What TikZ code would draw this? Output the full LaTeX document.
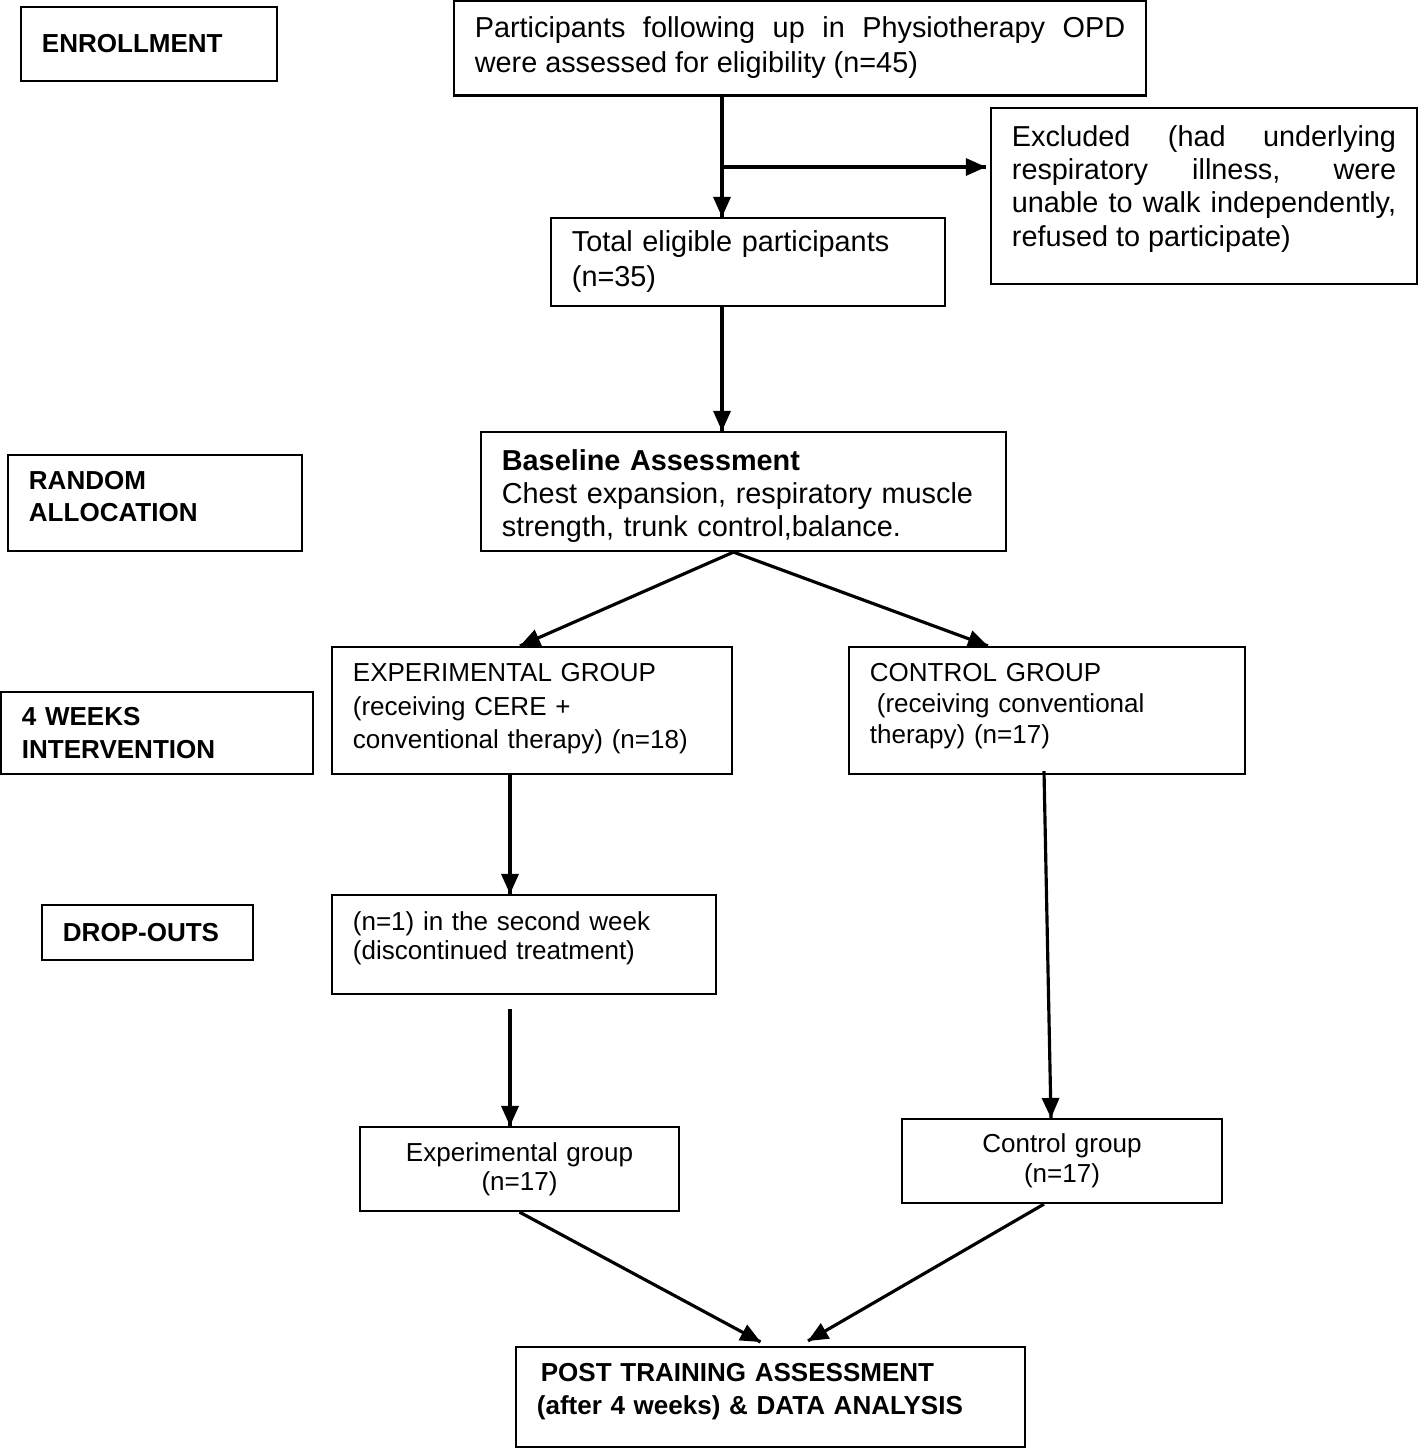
\documentclass[tikz,border=0pt]{standalone}
\usepackage{fontspec}
\setmainfont{Liberation Sans}
\usetikzlibrary{calc}

\begin{document}
\begin{tikzpicture}[
x=0.01cm,
y=-0.01cm,
stagebox/.style={
rectangle,
draw=black,
line width=0.6pt,
inner xsep=0.21cm,
inner ysep=0pt
},
bigfont/.style={font=\fontsize{8.2pt}{#1}\selectfont},
smallfont/.style={font=\fontsize{7.4pt}{#1}\selectfont},
phase/.style={
stagebox,
align=left,
font=\fontsize{7.4pt}{#1}\selectfont\bfseries
},
flow/.style={line width=0.9pt}
]

\useasboundingbox (0,0) rectangle (1419,1448);

% Phase labels
\node[phase=9.2pt, minimum width=2.56cm, minimum height=0.74cm, text width=2.14cm] (enroll) at (149,44)
{ENROLLMENT};

\node[phase=9.1pt, minimum width=2.94cm, minimum height=0.96cm, text width=2.52cm] (alloc) at (155,503)
{RANDOM\\ALLOCATION\rule[-0.14cm]{0pt}{0pt}};

\node[phase=9.4pt, minimum width=3.12cm, minimum height=0.82cm, text width=2.70cm] (weeks) at (157,733)
{4 WEEKS\\INTERVENTION};

\node[phase=9.2pt, minimum width=2.11cm, minimum height=0.55cm, text width=1.69cm] (dropouts) at (147.5,932.5)
{DROP-OUTS};

% Flow boxes
\node[stagebox, bigfont=9.96pt, align=justify, minimum width=6.92cm, minimum height=0.95cm, text width=6.50cm] (part) at (800,48)
{Participants following up in Physiotherapy OPD\linebreak were assessed for eligibility (n=45)};

\node[stagebox, bigfont=9.4pt, align=justify, minimum width=4.26cm, minimum height=1.76cm, text width=3.84cm] (excl) at (1204,196)
{Excluded (had underlying\linebreak respiratory illness, were\linebreak unable to walk independently,\linebreak refused to participate)\rule[-0.20cm]{0pt}{0pt}};

\node[stagebox, bigfont=9.96pt, align=left, minimum width=3.94cm, minimum height=0.88cm, text width=3.52cm] (total) at (748,262)
{Total eligible participants\\(n=35)};

\node[stagebox, bigfont=9.4pt, align=left, minimum width=5.25cm, minimum height=1.19cm, text width=4.83cm] (base) at (743.5,491.5)
{\rule{0pt}{0.30cm}\textbf{Baseline Assessment}\\Chest expansion, respiratory muscle\\strength, trunk control,balance.};

\node[stagebox, smallfont=9.5pt, align=left, minimum width=4.00cm, minimum height=1.27cm, text width=3.58cm] (exp) at (532,710.5)
{EXPERIMENTAL GROUP\\(receiving CERE +\\conventional therapy) (n=18)\rule[-0.09cm]{0pt}{0pt}};

\node[stagebox, smallfont=8.8pt, align=left, minimum width=3.96cm, minimum height=1.27cm, text width=3.54cm] (ctrl) at (1047,710.5)
{CONTROL GROUP\\\hspace*{0.07cm}(receiving conventional\\therapy) (n=17)\rule[-0.15cm]{0pt}{0pt}};

\node[stagebox, smallfont=8.25pt, align=left, minimum width=3.84cm, minimum height=0.99cm, text width=3.42cm] (drop) at (524,944.5)
{(n=1) in the second week\\(discontinued treatment)\rule[-0.18cm]{0pt}{0pt}};

\node[stagebox, smallfont=8.25pt, align=center, minimum width=3.19cm, minimum height=0.84cm, text width=2.77cm] (expgrp) at (519.5,1169)
{Experimental group\\(n=17)};

\node[stagebox, smallfont=8.5pt, align=center, minimum width=3.20cm, minimum height=0.84cm, text width=2.78cm] (ctrlgrp) at (1062,1161)
{Control group\\(n=17)};

\node[stagebox, smallfont=9.4pt, align=left, minimum width=5.09cm, minimum height=1.00cm, text width=4.67cm] (post) at (770.5,1397)
{\bfseries\hspace*{0.04cm}POST TRAINING ASSESSMENT\\(after 4 weeks) \& DATA ANALYSIS\rule[-0.17cm]{0pt}{0pt}};

% Connector end points
\coordinate (split) at (722,167);
\coordinate (leftcol) at (510,0);
\coordinate (b0) at ([xshift=-0.1cm]base.south);
\coordinate (e0) at ([xshift=-0.12cm]exp.north);
\coordinate (c0) at ([xshift=-0.59cm]ctrl.north);
\coordinate (c1) at ([xshift=-0.03cm,yshift=0.04cm]ctrl.south);
\coordinate (c2) at ([xshift=-0.11cm]ctrlgrp.north);
\coordinate (g0) at (expgrp.south);
\coordinate (g1) at ([xshift=-0.18cm]ctrlgrp.south);
\coordinate (p0) at ([xshift=-0.1cm,yshift=0.04cm]post.north);
\coordinate (p1) at ([xshift=0.375cm,yshift=0.05cm]post.north);

% Arrow shafts
\draw[flow] (part.south -| split) -- (total.north -| split);
\draw[flow] (split) -- ($(excl.west |- split)+(-4,0)$);
\draw[flow] (total.south -| split) -- (base.north -| split);
\draw[flow] (b0) -- (e0);
\draw[flow] (b0) -- (c0);
\draw[flow] (exp.south -| leftcol) -- (drop.north -| leftcol);
\draw[flow] ($(drop.south -| leftcol)+(0,14)$) -- (expgrp.north -| leftcol);
\draw[flow] (c1) -- (c2);
\draw[flow] (g0) -- (p0);
\draw[flow] (g1) -- (p1);

% Arrowheads (filled triangles, tip at the destination)
\fill (total.north -| split) -- ++(-9,-20) -- ++(18,0) -- cycle;
\fill ($(excl.west |- split)+(-4,0)$) -- ++(-20,-9) -- ++(0,18) -- cycle;
\fill (base.north -| split) -- ++(-9,-20) -- ++(18,0) -- cycle;
\fill (drop.north -| leftcol) -- ++(-9,-20) -- ++(18,0) -- cycle;
\fill (expgrp.north -| leftcol) -- ++(-9,-20) -- ++(18,0) -- cycle;
\fill (e0) -- ($(e0)!0.2cm!(b0)!0.09cm!90:(e0)$) -- ($(e0)!0.2cm!(b0)!0.09cm!-90:(e0)$) -- cycle;
\fill (c0) -- ($(c0)!0.2cm!(b0)!0.09cm!90:(c0)$) -- ($(c0)!0.2cm!(b0)!0.09cm!-90:(c0)$) -- cycle;
\fill (c2) -- ($(c2)!0.2cm!(c1)!0.09cm!90:(c2)$) -- ($(c2)!0.2cm!(c1)!0.09cm!-90:(c2)$) -- cycle;
\fill (p0) -- ($(p0)!0.2cm!(g0)!0.09cm!90:(p0)$) -- ($(p0)!0.2cm!(g0)!0.09cm!-90:(p0)$) -- cycle;
\fill (p1) -- ($(p1)!0.2cm!(g1)!0.09cm!90:(p1)$) -- ($(p1)!0.2cm!(g1)!0.09cm!-90:(p1)$) -- cycle;

\end{tikzpicture}
\end{document}
